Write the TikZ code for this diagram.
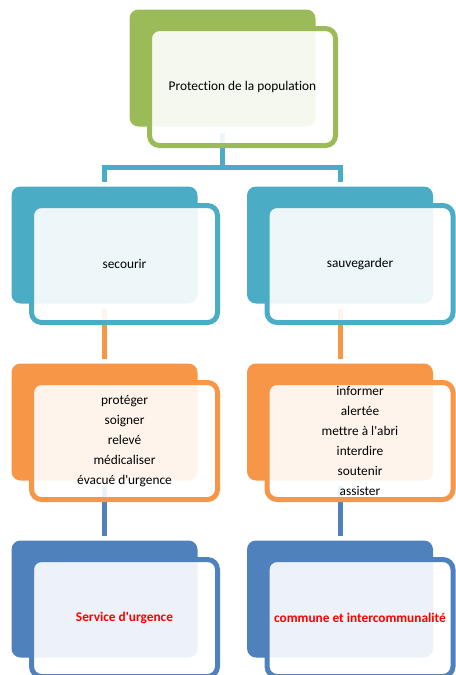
\documentclass[tikz,border=0pt]{standalone}
\usepackage{fontspec}
\setmainfont{Carlito}[Ligatures={TeX,NoCommon}]
\usetikzlibrary{positioning}

\definecolor{vertniv}{HTML}{9BBB59}
\definecolor{bleuniv}{HTML}{4BACC6}
\definecolor{orangeniv}{HTML}{F79646}
\definecolor{marineniv}{HTML}{4F81BD}

\tikzset{
  fond/.style={fill=#1, rounded corners=6.75pt, minimum width=139.5pt, minimum height=87.75pt, inner sep=0pt, outer sep=0pt},
  cadre/.style={draw=#1, line width=3.75pt, fill=white, fill opacity=0.9, text opacity=1, rounded corners=7.5pt, minimum width=139.5pt, minimum height=87.75pt, inner sep=0pt, align=center, font=\fontsize{10}{15}\selectfont},
  lien/.style={draw=#1, line width=3.75pt}
}

\begin{document}
\begin{tikzpicture}[x=0.75pt,y=-0.75pt]
\useasboundingbox (0,0) rectangle (455,675);
% Filled boxes behind
\node[fond=vertniv] at (222.5,68) (protB) {};
\node[fond=bleuniv] at (104.5,245) (secB) {};
\node[fond=bleuniv] at (340,245) (sauvB) {};
\node[fond=orangeniv, below=45pt of secB] (actsecB) {};
\node[fond=orangeniv, below=45pt of sauvB] (actsauvB) {};
\node[fond=marineniv, below=45pt of actsecB] (urgB) {};
\node[fond=marineniv, below=45pt of actsauvB] (comB) {};
% Connectors
\coordinate (split) at (222.5,167);
\draw[lien=bleuniv] ([yshift=-4.5pt]protB.south) -- (split);
\draw[lien=bleuniv] ([yshift=3.75pt]secB.north) |- (split) -| ([yshift=3.75pt]sauvB.north);
\draw[lien=orangeniv] ([yshift=-3.75pt]secB.south) -- ([yshift=3.75pt]actsecB.north);
\draw[lien=orangeniv] ([yshift=-3.75pt]sauvB.south) -- ([yshift=3.75pt]actsauvB.north);
\draw[lien=marineniv] ([yshift=-3.75pt]actsecB.south) -- ([yshift=3.75pt]urgB.north);
\draw[lien=marineniv] ([yshift=-3.75pt]actsauvB.south) -- ([yshift=3.75pt]comB.north);
% Framed boxes with the texts
\node[cadre=vertniv] at ([shift={(20,19)}]protB.center) (prot) {Protection de la population};
\node[cadre=bleuniv] at ([shift={(20,19)}]secB.center) (sec) {secourir};
\node[cadre=bleuniv] at ([shift={(20,19)}]sauvB.center) (sauv) {sauvegarder};
\node[cadre=orangeniv] at ([shift={(20,19)}]actsecB.center) (actsec) {protéger\\soigner\\relevé\\médicaliser\\évacué d\textquotesingle urgence};
\node[cadre=orangeniv] at ([shift={(20,19)}]actsauvB.center) (actsauv) {informer\\alertée\\mettre à l\textquotesingle abri\\interdire\\soutenir\\assister};
\node[cadre=marineniv, text=red] at ([shift={(20,19)}]urgB.center) (urg) {\bfseries Service d\textquotesingle urgence};
\node[cadre=marineniv, text=red] at ([shift={(20,19)}]comB.center) (com) {\bfseries commune et intercommunalité};
\end{tikzpicture}
\end{document}
